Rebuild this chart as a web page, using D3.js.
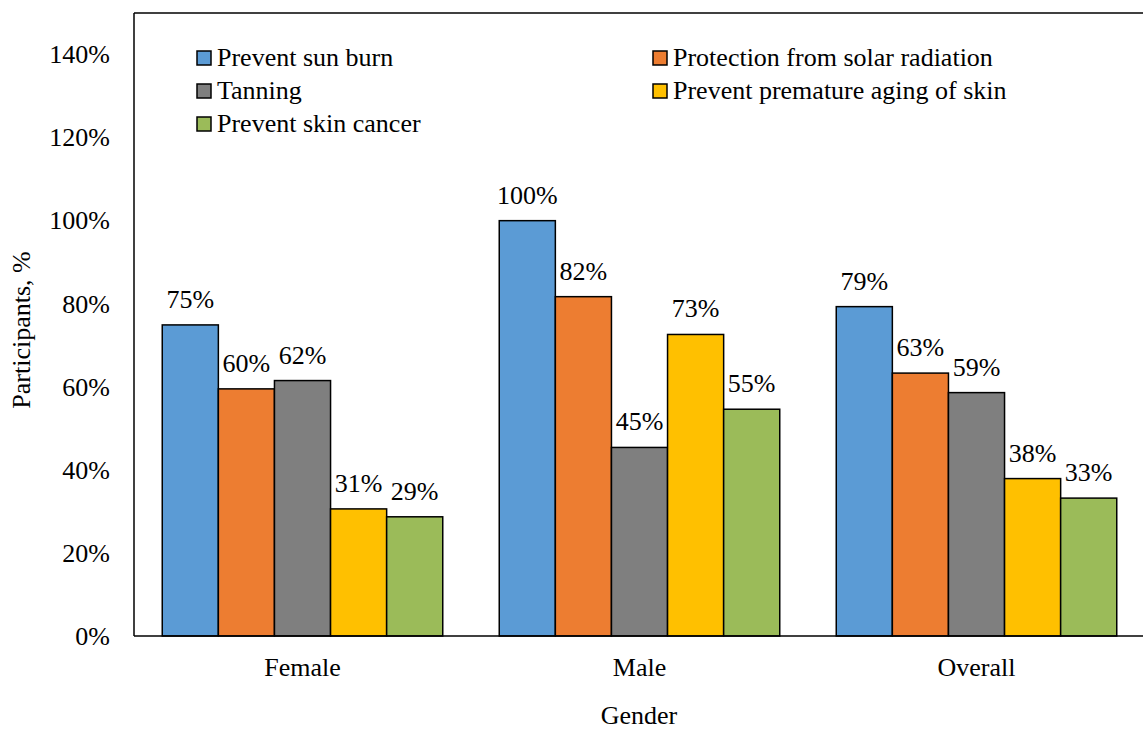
<!DOCTYPE html>
<html>
<head>
<meta charset="utf-8">
<script src="https://cdn.jsdelivr.net/npm/d3@7"></script>
<style>
  html, body { margin: 0; padding: 0; background: #fff; }
</style>
</head>
<body>
<svg id="chart" width="1143" height="729"></svg>
<script>
// Reasons for sunscreen use, by gender
const categories = ["Female", "Male", "Overall"];
const seriesNames = [
  "Prevent sun burn",
  "Protection from solar radiation",
  "Tanning",
  "Prevent premature aging of skin",
  "Prevent skin cancer"
];
const seriesColors = ["#5B9BD5", "#ED7D31", "#7F7F7F", "#FFC000", "#9BBB59"];
const preventSunBurn = [0.749, 1.000, 0.793];
const solarProtection = [0.595, 0.817, 0.633];
const tanning = [0.615, 0.454, 0.586];
const prematureAging = [0.306, 0.726, 0.379];
const skinCancer = [0.287, 0.546, 0.332];
const yTicks = [0, 0.2, 0.4, 0.6, 0.8, 1.0, 1.2, 1.4];

const seriesValues = [preventSunBurn, solarProtection, tanning, prematureAging, skinCancer];

const FONT = '"Liberation Serif", "Times New Roman", Tinos, serif';
const FS = 26;

const svg = d3.select("#chart");
const plotLeft = 134, plotRight = 1145, plotTop = 13, plotBottom = 636;

const x = d3.scaleBand().domain(categories).range([plotLeft, plotRight]).paddingInner(0).paddingOuter(0);
const groupPad = 28.25;
const xs = d3.scaleBand().domain(seriesNames)
  .range([groupPad, x.bandwidth() - groupPad]).padding(0);
const y = d3.scaleLinear().domain([0, 1.5]).range([plotBottom, plotTop]);

const pct = d3.format(".0%");

// bars with value labels
categories.forEach((cat, ci) => {
  const g = svg.append("g").attr("transform", `translate(${x(cat)},0)`);
  seriesNames.forEach((name, si) => {
    const v = seriesValues[si][ci];
    g.append("rect")
      .attr("x", xs(name))
      .attr("y", y(v))
      .attr("width", xs.bandwidth())
      .attr("height", y(0) - y(v))
      .attr("fill", seriesColors[si])
      .attr("stroke", "#000")
      .attr("stroke-width", 1.5);
    g.append("text")
      .attr("x", xs(name) + xs.bandwidth() / 2)
      .attr("y", y(v) - 17)
      .attr("text-anchor", "middle")
      .attr("fill", "#000")
      .text(pct(v));
  });
});

// frame: top border
svg.append("line").attr("x1", plotLeft).attr("x2", plotRight).attr("y1", plotTop).attr("y2", plotTop)
  .attr("stroke", "#000").attr("stroke-width", 1.5);

// y axis
const yAxis = d3.axisLeft(y).tickValues(yTicks).tickFormat(d3.format(".0%")).tickSize(0).tickPadding(24);
const ya = svg.append("g").attr("transform", `translate(${plotLeft},0)`).call(yAxis);
ya.select(".domain").remove();
ya.selectAll("text").attr("fill", "#000");
svg.append("line").attr("x1", plotLeft).attr("x2", plotLeft).attr("y1", plotTop).attr("y2", plotBottom)
  .attr("stroke", "#000").attr("stroke-width", 1.5);

// x axis
const xAxis = d3.axisBottom(x).tickSize(0).tickPadding(22);
const xa = svg.append("g").attr("transform", `translate(0,${plotBottom})`).call(xAxis);
xa.select(".domain").remove();
xa.selectAll("text").attr("fill", "#000");
svg.append("line").attr("x1", plotLeft).attr("x2", plotRight).attr("y1", plotBottom).attr("y2", plotBottom)
  .attr("stroke", "#000").attr("stroke-width", 1.5);

// axis titles
svg.append("text")
  .attr("transform", "translate(30,330) rotate(-90)")
  .attr("text-anchor", "middle")
  .text("Participants, %");
svg.append("text")
  .attr("x", 639).attr("y", 724)
  .attr("text-anchor", "middle")
  .text("Gender");

// legend
const legendCols = [197, 653];
const legendRows = [58, 91, 124];
seriesNames.forEach((name, i) => {
  const cx = legendCols[i % 2];
  const cy = legendRows[Math.floor(i / 2)];
  svg.append("rect")
    .attr("x", cx).attr("y", cy - 7)
    .attr("width", 14).attr("height", 14)
    .attr("fill", seriesColors[i])
    .attr("stroke", "#000").attr("stroke-width", 1.5);
  svg.append("text")
    .attr("x", cx + 20).attr("y", cy + 8)
    .text(name);
});

// one typeface and size for all text
svg.selectAll("text")
  .style("font-family", FONT)
  .style("font-size", FS + "px")
  .style("fill", "#000");
</script>
</body>
</html>
